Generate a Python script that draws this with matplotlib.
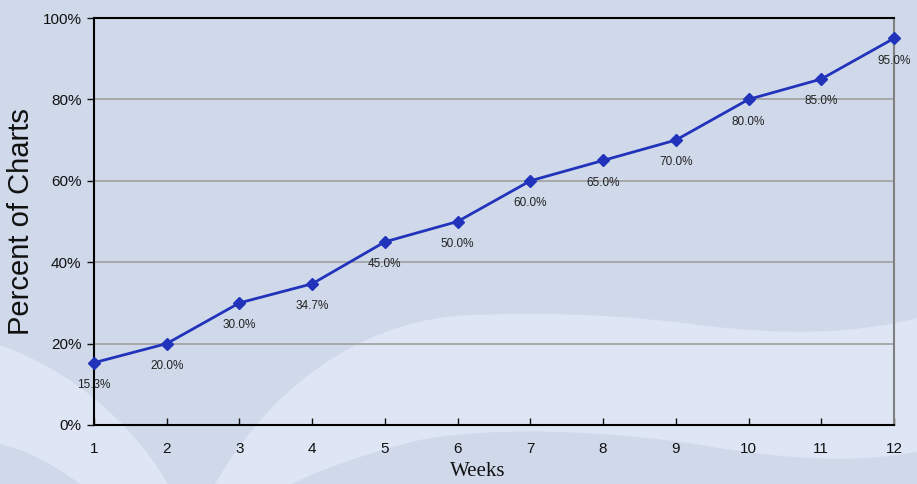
import numpy as np
import matplotlib.pyplot as plt
from matplotlib.path import Path
from matplotlib.patches import PathPatch

weeks = [1, 2, 3, 4, 5, 6, 7, 8, 9, 10, 11, 12]
percent = [15.3, 20.0, 30.0, 34.7, 45.0, 50.0, 60.0, 65.0, 70.0, 80.0, 85.0, 95.0]
y_ticks = [0, 20, 40, 60, 80, 100]

bg_dark = "#cfd9ea"
bg_light = "#dee5f4"
line_col = "#2233bb"

W, H = 917, 484
fig = plt.figure(figsize=(W / 100, H / 100), dpi=100)
fig.patch.set_facecolor(bg_dark)

# background waves, drawn in pixel space (y down)
bg = fig.add_axes([0, 0, 1, 1])
bg.set_xlim(0, W)
bg.set_ylim(H, 0)
bg.axis("off")

def wave(verts, codes):
    bg.add_patch(PathPatch(Path(verts, codes), facecolor=bg_light, edgecolor="none"))

M, C, L, Z = Path.MOVETO, Path.CURVE4, Path.LINETO, Path.CLOSEPOLY
# left band
wave([(0, 345), (70, 370), (130, 420), (168, 484),
      (80, 484), (50, 462), (25, 450), (0, 444), (0, 345)],
     [M, C, C, C, L, C, C, C, Z])
# middle / right band
wave([(215, 484), (280, 370), (380, 318), (470, 315),
      (560, 312), (620, 315), (700, 325),
      (780, 335), (850, 335), (917, 318),
      (917, 452),
      (860, 462), (800, 462), (700, 445),
      (620, 432), (500, 425), (420, 440),
      (360, 455), (320, 470), (292, 484), (215, 484)],
     [M, C, C, C, C, C, C, C, C, C, L, C, C, C, C, C, C, C, C, C, Z])

ax = fig.add_axes([94 / W, 1 - 425 / H, 800 / W, 407 / H])
ax.set_facecolor("none")
ax.plot(weeks, percent, color=line_col, lw=2, marker="D", markersize=6.5,
        clip_on=False, zorder=3)
for x, v in zip(weeks, percent):
    ax.annotate(f"{v:.1f}%", (x, v), xytext=(0, -16), textcoords="offset points",
                ha="center", va="center", fontsize=8.5, family="Liberation Sans",
                color="#222222", zorder=4)

ax.set_xlim(1, 12)
ax.set_ylim(0, 100)
ax.set_xticks(weeks)
ax.set_yticks(y_ticks)
ax.set_yticklabels([f"{t}%" for t in y_ticks])
for t in [20, 40, 60, 80]:
    ax.axhline(t, color="#a0a0a0", lw=1.2, zorder=1)

ax.tick_params(axis="y", direction="out", length=5, width=1, pad=4,
               labelsize=11, colors="#111111")
ax.tick_params(axis="x", direction="in", length=5, width=1, pad=12,
               labelsize=11, colors="#111111")
for lab in ax.get_xticklabels() + ax.get_yticklabels():
    lab.set_family("Liberation Sans")

for s in ["left", "bottom", "top"]:
    ax.spines[s].set_color("black")
    ax.spines[s].set_linewidth(1.5)
ax.spines["right"].set_color("#808080")
ax.spines["right"].set_linewidth(1.5)

fig.text(21 / W, 1 - 222 / H, "Percent of Charts", rotation=90, ha="center",
         va="center", fontsize=21, family="Liberation Sans", color="#111111")
fig.text(478 / W, 1 - 471 / H, "Weeks", ha="center", va="center",
         fontsize=15, family="Liberation Serif", color="#111111")

fig.savefig("out.png", dpi=100, facecolor=fig.get_facecolor())
